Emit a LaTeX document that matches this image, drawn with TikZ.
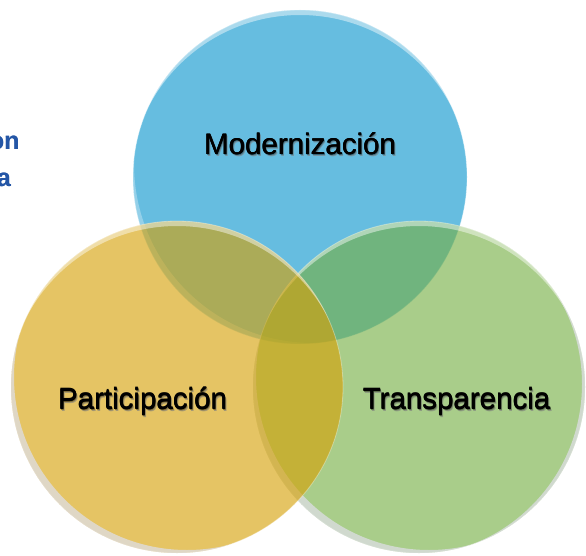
\documentclass[tikz,border=0pt]{standalone}
\usepackage{fontspec}
\setmainfont{Liberation Sans}
\definecolor{cblue}{RGB}{102,189,224}
\definecolor{cgreen}{RGB}{119,176,70}
\definecolor{corange}{RGB}{214,160,5}
\definecolor{cgray}{RGB}{222,222,230}
\definecolor{fragblue}{RGB}{36,86,166}
\definecolor{bgblue}{RGB}{102,189,224}
\definecolor{bgorange}{RGB}{230,196,100}
\definecolor{bggreen}{RGB}{169,205,138}
% crescent: centre x, centre y, radius, shift x, shift y, growth, style
\newcommand\mycres[7]{%
  \begin{scope}
    \clip (#1,#2) circle[radius=#3pt];
    \fill[#7,even odd rule] (#1,#2) circle[radius=#3pt+2pt]
      ({#1+#4},{#2+#5}) circle[radius=#3pt+#6pt];
  \end{scope}}
% label with soft shadow (colour #1) and slight emboldening
\newcommand\shtext[2]{\leavevmode
  \rlap{\kern1.6pt\raisebox{-2pt}{\textcolor{#1!70}{#2}}}%
  \rlap{\kern0.9pt\raisebox{-1pt}{\textcolor{#1}{#2}}}%
  \rlap{\kern0.4pt #2}\rlap{\raisebox{0.25pt}{#2}}#2}
\begin{document}
\begin{tikzpicture}[x=1pt,y=-1pt,
  bubble/.style={circle, inner sep=0pt, minimum size=#1, draw=white, draw opacity=0.35, line width=0.8pt},
  lbl/.style={font=\fontsize{29.5}{31}\selectfont, text=black, inner sep=0pt, anchor=base},
  frag/.style={font=\bfseries\fontsize{25}{26}\selectfont, inner sep=0pt, anchor=base east},
  hilite/.style={white, fill opacity=0.45},
  shade/.style={cgray, fill opacity=0.75},
  softshade/.style={white, fill opacity=0.3}]
\useasboundingbox (0,0) rectangle (586,556);
\fill[white] (0,0) rectangle (586,556);
% fragments of text behind
\node[frag] (fon) at (19.5,149.5) {\rlap{\kern0.3pt\textcolor{fragblue}{on}}\textcolor{fragblue}{on}};
\node[frag] (fa) at (11,186.5) {\rlap{\kern0.3pt\textcolor{fragblue}{a}}\textcolor{fragblue}{a}};
% blue circle
\node[bubble=334pt, fill=cblue] (mod) at (300,177) {};
\mycres{300}{177}{167}{0}{9}{4}{hilite}
\mycres{300}{177}{167}{13}{-13}{12}{softshade}
% green circle
\node[bubble=332pt, fill=cgreen, fill opacity=0.63] (tra) at (419,387) {};
\mycres{419}{387}{166}{0}{9}{4}{hilite}
\mycres{419}{387}{166}{10}{-10}{7}{shade}
\mycres{419}{387}{166}{-9}{-3}{6}{shade}
% orange circle
\node[bubble=332pt, fill=corange, fill opacity=0.62] (par) at (177,387) {};
\mycres{177}{387}{166}{0}{9}{4}{hilite}
\mycres{177}{387}{166}{10}{-10}{7}{shade}
% labels
\node[lbl] (tmod) at (300,155) {\shtext{bgblue!55!black}{Modernización}};
\node[lbl] (tpar) at (142.5,409) {\shtext{bgorange!55!black}{Participación}};
\node[lbl] (ttra) at (456.5,409) {\shtext{bggreen!55!black}{Transparencia}};
\end{tikzpicture}
\end{document}
